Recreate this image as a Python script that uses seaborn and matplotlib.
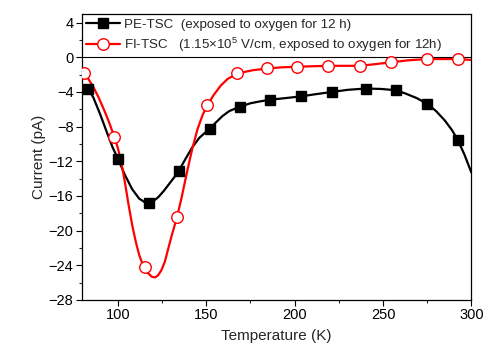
import matplotlib
matplotlib.use('Agg')
import matplotlib.pyplot as plt
from matplotlib.lines import Line2D
from matplotlib.ticker import MultipleLocator
import seaborn as sns
import pandas as pd

# ── Data ─────────────────────────────────────────────────────────────────────
# PE-TSC markers (exposed to oxygen for 12 h)
pe_temp = [82.9, 100.2, 117.5, 134.4, 151.9, 168.9, 185.8, 203.8, 220.9, 240.2, 257.3, 274.9, 292.2]
pe_curr = [-3.6, -11.7, -16.8, -13.1, -8.3, -5.7, -4.9, -4.5, -4.0, -3.6, -3.8, -5.35, -9.5]
# PE-TSC fitted curve
pe_line_temp = [79.5, 82.9, 86, 90, 94, 97, 100.2, 104, 108, 112, 115, 117.5, 120, 123, 126, 129, 132, 134.4,
                138, 142, 146, 149, 151.9, 155, 159, 163, 168.9, 175, 180, 185.8, 195, 203.8, 212, 220.9,
                230, 240.2, 249, 257.3, 263, 269, 274.9, 280, 285, 289, 292.2, 296, 300]
pe_line_curr = [-3.2, -3.6, -4.6, -6.6, -8.8, -10.4, -11.8, -13.6, -15.2, -16.3, -16.7, -16.8, -16.6, -16.1, -15.4,
                -14.6, -13.8, -13.1, -11.8, -10.4, -9.3, -8.75, -8.3, -7.6, -6.8, -6.2, -5.7, -5.3, -5.1, -4.9,
                -4.7, -4.5, -4.25, -4.0, -3.75, -3.6, -3.65, -3.8, -4.2, -4.7, -5.35, -6.2, -7.3, -8.4, -9.5, -11.2, -13.3]

# FI-TSC markers (1.15x10^5 V/cm, exposed to oxygen for 12 h)
fi_temp = [80.6, 98.0, 115.1, 133.4, 150.6, 167.6, 184.6, 201.4, 219.1, 236.7, 254.3, 274.9, 292.2]
fi_curr = [-1.8, -9.2, -24.2, -18.45, -5.55, -1.86, -1.28, -1.09, -0.98, -0.98, -0.58, -0.2, -0.2]
# FI-TSC fitted curve
fi_line_temp = [79.5, 80.6, 83, 86, 89, 92, 95, 98.0, 100, 102, 104, 106, 108, 110, 112, 114, 115.1, 117, 119,
                120.8, 122.5, 124.5, 126.5, 128.3, 130.5, 133.4, 136, 139, 142, 145, 148, 150.6, 154, 158, 162,
                167.6, 176, 184.6, 193, 201.4, 210, 219.1, 228, 236.7, 245, 254.3, 264, 274.9, 283, 292.2, 300]
fi_line_curr = [-1.6, -1.8, -2.4, -3.4, -4.6, -6.0, -7.5, -9.2, -10.5, -12.2, -14.5, -17.0, -19.3, -21.2, -22.8,
                -23.9, -24.3, -24.9, -25.3, -25.4, -25.2, -24.6, -23.6, -22.2, -20.5, -18.45, -16.2, -13.3, -10.6,
                -8.3, -6.6, -5.55, -4.4, -3.3, -2.5, -1.86, -1.5, -1.28, -1.15, -1.09, -1.03, -0.98, -0.98, -0.98,
                -0.8, -0.58, -0.35, -0.2, -0.2, -0.2, -0.3]

x_label = 'Temperature (K)'
y_label = 'Current (pA)'
pe_label = 'PE-TSC  (exposed to oxygen for 12 h)'
fi_label = 'FI-TSC   (1.15$\\times$10$^5$ V/cm, exposed to oxygen for 12h)'

# ── Plot ─────────────────────────────────────────────────────────────────────
sns.set_theme(style='ticks')
plt.rcParams['font.family'] = ['Liberation Sans', 'DejaVu Sans']
plt.rcParams['mathtext.fontset'] = 'custom'
plt.rcParams['mathtext.rm'] = 'Liberation Sans'

fig = plt.figure(figsize=(4.87, 3.57), dpi=100)
ax = fig.add_axes([0.1678, 0.1597, 0.8002, 0.8011])

ax.axhline(0, color='black', lw=0.8, zorder=1)

pe_line = pd.DataFrame({'T': pe_line_temp, 'I': pe_line_curr})
fi_line = pd.DataFrame({'T': fi_line_temp, 'I': fi_line_curr})
sns.lineplot(data=pe_line, x='T', y='I', ax=ax, color='black', lw=1.6, sort=False, estimator=None, zorder=2)
sns.lineplot(data=fi_line, x='T', y='I', ax=ax, color='red', lw=1.6, sort=False, estimator=None, zorder=3)

ax.plot(pe_temp, pe_curr, ls='none', marker='s', ms=7.5, color='black', zorder=4)
ax.plot(fi_temp, fi_curr, ls='none', marker='o', ms=8.3, mfc='white', mec='red', mew=1.0, zorder=5)

ax.set_xlim(79.5, 300)
ax.set_ylim(-28, 5)
ax.xaxis.set_major_locator(MultipleLocator(50))
ax.xaxis.set_minor_locator(MultipleLocator(25))
ax.yaxis.set_major_locator(MultipleLocator(4))
ax.yaxis.set_minor_locator(MultipleLocator(2))
ax.tick_params(axis='both', which='major', direction='out', length=4, width=0.8, labelsize=10.5, pad=2, colors='black')
ax.tick_params(axis='both', which='minor', direction='out', length=2.5, width=0.8)
for s in ax.spines.values():
    s.set_linewidth(0.9)
    s.set_color('black')

ax.set_xlabel(x_label, fontsize=11, labelpad=5)
ax.set_ylabel(y_label, fontsize=11, labelpad=2)

handles = [
    Line2D([], [], color='black', lw=1.6, marker='s', ms=7.5),
    Line2D([], [], color='red', lw=1.6, marker='o', ms=8.3, mfc='white', mec='red'),
]
ax.legend(handles, [pe_label, fi_label], loc='upper left', frameon=False, fontsize=9.6,
          handlelength=2.5, handletextpad=0.3, borderaxespad=0.05, borderpad=0.3, labelspacing=0.35)

fig.savefig('out.png', dpi=100)
